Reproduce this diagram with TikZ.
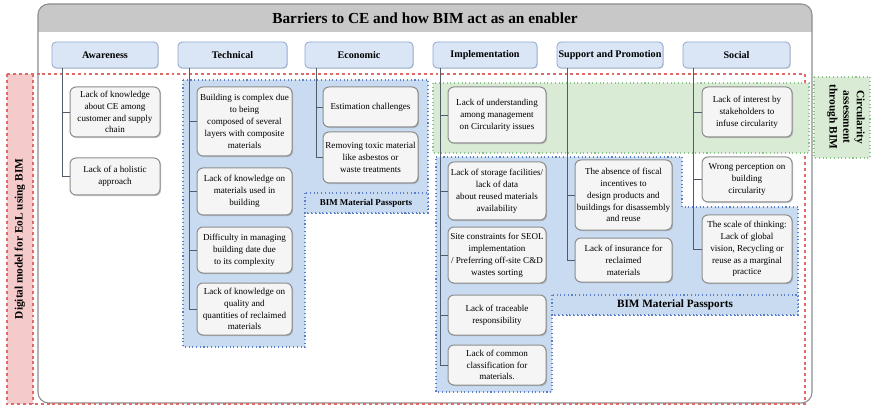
\documentclass[tikz,border=0pt]{standalone}
\usepackage{fontspec}
\setmainfont{Liberation Serif}
\usetikzlibrary{shadows}
\definecolor{hdrgray}{HTML}{C8C8C8}
\definecolor{framebd}{HTML}{8C8C8C}
\definecolor{catfill}{HTML}{DAE5F6}
\definecolor{catbd}{HTML}{90A8CF}
\definecolor{leaffill}{HTML}{F5F5F5}
\definecolor{leafbd}{HTML}{8E8E8E}
\definecolor{bluefill}{HTML}{C9DBF1}
\definecolor{bluebd}{HTML}{5C7FC8}
\definecolor{greenfill}{HTML}{D9EBD4}
\definecolor{greenbd}{HTML}{8FC48F}
\definecolor{pinkfill}{HTML}{F5CACA}
\definecolor{redbd}{HTML}{DE6A6A}
\definecolor{trunk}{HTML}{4F5D6B}
\newcommand{\leafnode}[6]{\node[leafbox, minimum width={(#4-#2)*0.75pt}, minimum height={(#5-#3)*0.75pt}] (#1) at ({(#2+#4)/2},{(#3+#5)/2}) {#6};}
\newcommand{\catnode}[4]{\node[catbox, minimum width={(#3-#2)*0.75pt}] (#1) at ({(#2+#3)/2},55) {#4};}
\begin{document}
\begin{tikzpicture}[x=0.75pt,y=-0.75pt,
  leafbox/.style={draw=leafbd, fill=leaffill, rounded corners=4.5pt, line width=0.75pt, align=center,
    font=\fontsize{6.8}{8.9}\selectfont, inner sep=1pt,
    drop shadow={shadow xshift=0.8pt, shadow yshift=-0.8pt, opacity=0.45}},
  catbox/.style={draw=catbd, fill=catfill, rounded corners=3pt, line width=0.6pt, align=center,
    font=\bfseries\fontsize{7.6}{9}\selectfont, minimum height={26*0.75pt}, inner sep=1pt,
    drop shadow={shadow xshift=0.6pt, shadow yshift=-0.6pt, opacity=0.3}},
  bluereg/.style={fill=bluefill, draw=bluebd, line width=0.8pt, dotted},
  greenreg/.style={fill=greenfill, draw=greenbd, line width=0.8pt, dotted},
  trunkline/.style={draw=trunk, line width=0.7pt}]
\useasboundingbox (0,0) rectangle (871,406);
% frame
\fill[white, rounded corners=8pt] (38,4) rectangle (812,403);
\fill[hdrgray] (38,32) [rounded corners=8pt] -- (38,4) -- (812,4) [sharp corners] -- (812,32) -- cycle;
\draw[framebd, line width=0.8pt, rounded corners=8pt] (38,4) rectangle (812,403);
\node[font=\bfseries\fontsize{11.5}{13}\selectfont] (title) at (425,18) {Barriers to CE and how BIM act as an enabler};
% red dashed region + pink label
\fill[pinkfill] (7,74) rectangle (33,404);
\draw[redbd, line width=0.9pt, dash pattern=on 2.2pt off 2.2pt] (7,74) rectangle (805,404);
\draw[redbd, line width=0.9pt, dash pattern=on 2.2pt off 2.2pt] (33,74) -- (33,404);
\node[rotate=90, font=\bfseries\fontsize{8.5}{10}\selectfont] (leftlab) at (20,239) {Digital model for EoL using BIM};
% green band
\path[greenreg] (433,83) rectangle (809,153);
\path[greenreg] (814,77) rectangle (870,158);
\node[rotate=-90, align=center, font=\bfseries\fontsize{8.5}{10.2}\selectfont] (rightlab) at (846,117) {Circularity\\assessment\\through BIM};
% blue regions
\path[bluereg] (183,80) -- (428,80) -- (428,213) -- (305,213) -- (305,347) -- (183,347) -- cycle;
\path[bluereg] (305,193) rectangle (428,213);
\node[font=\bfseries\fontsize{6.7}{8}\selectfont] (bmp1) at (366,203) {BIM Material Passports};
\path[bluereg] (436,157) -- (682,157) -- (682,207) -- (798,207) -- (798,315) -- (552,315) -- (552,392) -- (436,392) -- cycle;
\path[bluereg] (552,295) rectangle (798,315);
\node[font=\bfseries\fontsize{8.4}{10}\selectfont] (bmp2) at (675,305) {BIM Material Passports};
% categories
\catnode{aw}{52}{158}{Awareness}
\catnode{te}{178}{287}{Technical}
\catnode{ec}{305}{413}{Economic}
\catnode{im}{433}{537}{Implementation}
\catnode{su}{557}{663}{Support and Promotion}
\catnode{so}{683}{790}{Social}
\coordinate (awT) at (62,68);
\coordinate (teT) at (189,68);
\coordinate (ecT) at (316,68);
\coordinate (imT) at (440,68);
\coordinate (suT) at (567,68);
\coordinate (soT) at (693,68);
% leaves
\leafnode{aw1}{70}{87}{160}{137}{Lack of knowledge\\about CE among\\customer and supply\\chain}
\leafnode{aw2}{70}{158}{160}{195}{Lack of a holistic\\approach}
\leafnode{te1}{197}{87}{292}{156}{Building is complex due\\to being\\composed of several\\layers with composite\\materials}
\leafnode{te2}{197}{168}{292}{215}{Lack of knowledge on\\materials used in\\building}
\leafnode{te3}{197}{227}{292}{273}{Difficulty in managing\\building date due\\to its complexity}
\leafnode{te4}{197}{283}{292}{335}{Lack of knowledge on\\quality and\\quantities of reclaimed\\materials}
\leafnode{ec1}{323}{87}{418}{127}{Estimation challenges}
\leafnode{ec2}{323}{132}{418}{183}{Removing toxic material\\like asbestos or\\waste treatments}
\leafnode{im1}{448}{87}{546}{143}{Lack of understanding\\among management\\on Circularity issues}
\leafnode{im2}{448}{162}{546}{220}{Lack of storage facilities/\\lack of data\\about reused materials\\availability}
\leafnode{im3}{448}{227}{546}{283}{Site constraints for SEOL\\implementation\\/ Preferring off-site C\&D\\wastes sorting}
\leafnode{im4}{448}{295}{546}{335}{Lack of traceable\\responsibility}
\leafnode{im5}{448}{345}{546}{385}{Lack of common\\classification for\\materials.}
\leafnode{su1}{575}{160}{672}{230}{The absence of fiscal\\incentives to\\design products and\\buildings for disassembly\\and reuse}
\leafnode{su2}{575}{238}{672}{282}{Lack of insurance for\\reclaimed\\materials}
\leafnode{so1}{702}{87}{792}{137}{Lack of interest by\\stakeholders to\\infuse circularity}
\leafnode{so2}{702}{157}{792}{202}{Wrong perception on\\building\\circularity}
\leafnode{so3}{702}{215}{792}{283}{The scale of thinking:\\Lack of global\\vision, Recycling or\\reuse as a marginal\\practice}
% connectors
\foreach \t/\l in {awT/aw1,awT/aw2,teT/te1,teT/te2,teT/te3,teT/te4,ecT/ec1,ecT/ec2,
  imT/im1,imT/im2,imT/im3,imT/im4,imT/im5,suT/su1,suT/su2,soT/so1,soT/so2,soT/so3}
  \draw[trunkline] (\t) |- (\l.west);
\end{tikzpicture}
\end{document}
